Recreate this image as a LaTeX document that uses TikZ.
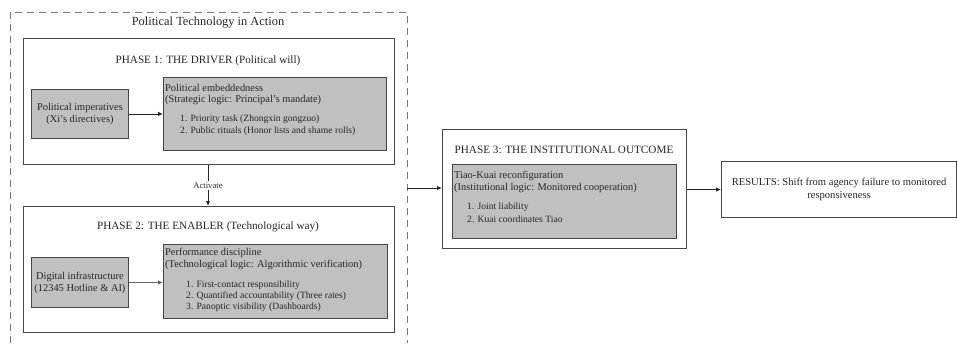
\documentclass[tikz,border=0pt]{standalone}
\usepackage{fontspec}
\setmainfont{Liberation Serif}
\usetikzlibrary{arrows.meta}
\definecolor{boxgray}{RGB}{192,192,192}
\definecolor{linegray}{RGB}{70,70,70}
\definecolor{dashgray}{RGB}{120,120,120}
\begin{document}
\begin{tikzpicture}[x=1pt,y=-1pt,
  phasebox/.style={draw=linegray, line width=1.1pt, fill=white, inner sep=0pt, anchor=north west},
  graybox/.style={draw=linegray, line width=0.9pt, fill=boxgray, inner sep=0pt, anchor=north west},
  arr/.style={-{Latex[length=5pt,width=4.5pt]}, line width=0.9pt, draw=black!85},
  hdr/.style={font=\fontsize{10.4}{12}\selectfont, text=black!85, anchor=west, inner sep=0pt},
  item/.style={font=\fontsize{9.6}{11}\selectfont, text=black!85, anchor=west, inner sep=0pt},
  ptitle/.style={font=\fontsize{11.2}{13}\selectfont, text=black!85, inner sep=0pt},
  ctext/.style={font=\fontsize{10.4}{12}\selectfont, text=black!85, align=center, inner sep=0pt}
]
\useasboundingbox (0,0) rectangle (957,343);

% outer dashed frame (open at the bottom)
\draw[dashgray, line width=0.9pt, dash pattern=on 7pt off 5pt] (10,343) -- (10,12) -- (407,12) -- (407,343);
\node[font=\fontsize{12.4}{14}\selectfont, text=black!85, inner sep=0pt] (ttl) at (208,23) {Political Technology in Action};
\coordinate (frameR) at (407,188);

% Phase 1
\node[phasebox, minimum width=371pt, minimum height=126pt] (p1) at (23,38) {};
\node[ptitle] (p1t) at (208,61) {PHASE 1: THE DRIVER (Political will)};
\node[graybox, minimum width=97pt, minimum height=49pt] (pi) at (31,89) {};
\node[ctext] (pit) at (pi.center) {Political imperatives\\(Xi’s directives)};
\node[graybox, minimum width=223pt, minimum height=73pt] (pe) at (163,77) {};
\node[hdr] (pe1) at (165,88) {Political embeddedness};
\node[hdr] (pe2) at (165,100) {(Strategic logic: Principal’s mandate)};
\node[item] (pe3) at (180,119) {1. Priority task (Zhongxin gongzuo)};
\node[item] (pe4) at (180,131) {2. Public rituals (Honor lists and shame rolls)};
\draw[arr] (pi.east) -- (pi.east -| pe.west);

% Phase 2
\node[phasebox, minimum width=371pt, minimum height=126pt] (p2) at (23,206) {};
\node[ptitle] (p2t) at (208,227) {PHASE 2: THE ENABLER (Technological way)};
\node[graybox, minimum width=97pt, minimum height=50pt] (di) at (31,257) {};
\node[ctext] (dit) at (di.center) {Digital infrastructure\\(12345 Hotline \& AI)};
\node[graybox, minimum width=224pt, minimum height=74pt] (pd) at (163,244) {};
\node[hdr] (pd1) at (165,253) {Performance discipline};
\node[hdr] (pd2) at (165,265) {(Technological logic: Algorithmic verification)};
\node[item] (pd3) at (186,285) {1. First-contact responsibility};
\node[item] (pd4) at (186,296) {2. Quantified accountability (Three rates)};
\node[item] (pd5) at (186,307) {3. Panoptic visibility (Dashboards)};
\draw[arr, draw=black!60] (di.east) -- (di.east -| pd.west);

% Activate
\draw[arr] (p1.south -| p1t) -- node[fill=white, inner sep=1.5pt, font=\fontsize{8.6}{10}\selectfont, text=black!85] {Activate} (p2.north -| p1t);

% Phase 3
\node[phasebox, minimum width=244pt, minimum height=119pt] (p3) at (442,129) {};
\node[ptitle] (p3t) at (564,150) {PHASE 3: THE INSTITUTIONAL OUTCOME};
\node[graybox, minimum width=224pt, minimum height=74pt] (tk) at (452,164) {};
\node[hdr] (tk1) at (454,176) {Tiao-Kuai reconfiguration};
\node[hdr] (tk2) at (454,188) {(Institutional logic: Monitored cooperation)};
\node[item] (tk3) at (467,207) {1. Joint liability};
\node[item] (tk4) at (467,219) {2. Kuai coordinates Tiao};
\draw[arr] (frameR) -- (frameR -| p3.west);

% Results
\node[phasebox, minimum width=235pt, minimum height=56pt] (res) at (721,161) {};
\node[ctext, font=\fontsize{10.6}{13}\selectfont] (rest) at (res.center) {RESULTS: Shift from agency failure to monitored\\responsiveness};
\draw[arr] (p3.east |- res.west) -- (res.west);
\end{tikzpicture}
\end{document}
